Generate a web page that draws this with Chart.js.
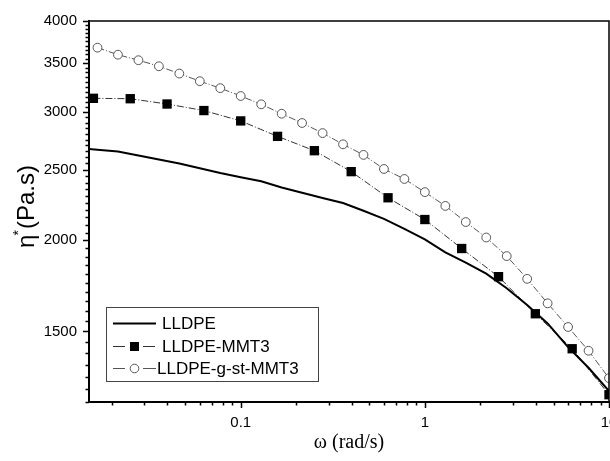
<!DOCTYPE html>
<html>
<head>
<meta charset="utf-8">
<script src="https://cdn.jsdelivr.net/npm/chart.js@4.4.1/dist/chart.umd.min.js"></script>
<style>
html, body { margin: 0; padding: 0; background: #fff; overflow: hidden; }
#wrap { position: relative; width: 640px; height: 461px; }
</style>
</head>
<body>
<div id="wrap"><canvas id="chart-canvas"></canvas></div>
<script>
// series names
const seriesNames = ['LLDPE', 'LLDPE-MMT3', 'LLDPE-g-st-MMT3'];

// frequency grids (rad/s)
const omegaFine = [0.01668, 0.02154, 0.02783, 0.03594, 0.04642, 0.05995, 0.07743, 0.1, 0.1292, 0.1668, 0.2154, 0.2783, 0.3594,
    0.4642, 0.5995, 0.7743, 1, 1.292, 1.668, 2.154, 2.783, 3.594, 4.642, 5.995, 7.743, 10];
const omegaLldpe = [0.015, 0.01668, 0.02154, 0.02783, 0.03594, 0.04642, 0.05995, 0.07743, 0.1, 0.1292, 0.1668, 0.2154, 0.2783, 0.3594,
    0.4642, 0.5995, 0.7743, 1, 1.292, 1.668, 2.154, 2.783, 3.594, 4.642, 5.995, 7.743, 10];
const omegaMmt3 = [0.01585, 0.02512, 0.03981, 0.0631, 0.1, 0.1585, 0.2512, 0.3981, 0.631, 1, 1.585, 2.512, 3.981, 6.31, 10];

// complex viscosity (Pa.s)
const etaLldpe = [2670, 2663, 2648, 2615, 2583, 2550, 2512, 2474, 2442, 2410, 2364, 2324, 2286, 2250,
    2196, 2140, 2074, 2006, 1926, 1864, 1800, 1719, 1630, 1538, 1427, 1337, 1242];
const etaMmt3 = [3133, 3129, 3077, 3014, 2917, 2778, 2655, 2485, 2288, 2136, 1949, 1783, 1586, 1420, 1228];
const etaGst = [3677, 3596, 3534, 3467, 3388, 3307, 3235, 3156, 3074, 2984, 2898, 2807, 2709, 2620, 2506,
    2428, 2329, 2230, 2119, 2018, 1903, 1771, 1639, 1521, 1411, 1294];

// ticks
const xMajor = [0.1, 1, 10];
const xMajorLabels = ['0.1', '1', '10'];
const xMinor = [0.02, 0.03, 0.04, 0.05, 0.06, 0.07, 0.08, 0.09, 0.2, 0.3, 0.4, 0.5, 0.6, 0.7, 0.8, 0.9, 2, 3, 4, 5, 6, 7, 8, 9];
const yMajor = [1500, 2000, 2500, 3000, 3500, 4000];
const yMinor = [1200, 1250, 1300, 1350, 1400, 1450, 1550, 1600, 1650, 1700, 1750, 1800, 1850, 1900, 1950,
    2050, 2100, 2150, 2200, 2250, 2300, 2350, 2400, 2450, 2550, 2600, 2650, 2700, 2750, 2800, 2850, 2900, 2950,
    3050, 3100, 3150, 3200, 3250, 3300, 3350, 3400, 3450, 3550, 3600, 3650, 3700, 3750, 3800, 3850, 3900, 3950];

const pts = (xs, ys) => xs.map((x, i) => ({ x: x, y: ys[i] }));

const frameAndDeco = {
    id: 'frameAndDeco',
    afterDraw(chart) {
        const ctx = chart.ctx, ca = chart.chartArea, sx = chart.scales.x, sy = chart.scales.y;
        ctx.save();
        // top + right frame
        ctx.strokeStyle = '#000'; ctx.lineWidth = 1.5;
        ctx.beginPath();
        ctx.moveTo(ca.left, ca.top); ctx.lineTo(ca.right, ca.top); ctx.lineTo(ca.right, ca.bottom);
        ctx.stroke();
        // ticks (outward)
        ctx.lineWidth = 1.5;
        ctx.beginPath();
        xMajor.forEach(v => { const p = Math.round(sx.getPixelForValue(v)) + 0.5; ctx.moveTo(p, ca.bottom); ctx.lineTo(p, ca.bottom + 6); });
        xMinor.forEach(v => { const p = Math.round(sx.getPixelForValue(v)) + 0.5; ctx.moveTo(p, ca.bottom); ctx.lineTo(p, ca.bottom + 3.5); });
        yMajor.forEach(v => { const p = Math.round(sy.getPixelForValue(v)) + 0.5; ctx.moveTo(ca.left, p); ctx.lineTo(ca.left - 6, p); });
        yMinor.forEach(v => { const p = Math.round(sy.getPixelForValue(v)) + 0.5; ctx.moveTo(ca.left, p); ctx.lineTo(ca.left - 3.5, p); });
        ctx.stroke();

        // y title: eta* (Pa.s)
        ctx.fillStyle = '#000';
        ctx.translate(ca.left - 55, (ca.top + ca.bottom) / 2 - 5);
        ctx.rotate(-Math.PI / 2);
        ctx.textBaseline = 'alphabetic';
        const big = '24px "Liberation Sans", Arial, sans-serif', small = '14px "Liberation Sans", Arial, sans-serif';
        ctx.font = big;
        const wEta = ctx.measureText('\u03B7').width;
        const wRest = ctx.measureText('(Pa.s)').width;
        ctx.font = small;
        const wStar = ctx.measureText('*').width;
        let tx = -(wEta + wStar + wRest) / 2;
        ctx.font = big;
        ctx.fillText('\u03B7', tx, 0); tx += wEta;
        ctx.font = small;
        ctx.fillText('*', tx - 1, -11); tx += wStar;
        ctx.font = big;
        ctx.fillText('(Pa.s)', tx, 0);
        ctx.restore();

        // legend box
        ctx.save();
        const bl = ca.left + 17, bt = ca.top + 286, bw = 212, bh = 74;
        ctx.strokeStyle = '#444'; ctx.lineWidth = 1;
        ctx.strokeRect(bl + 0.5, bt + 0.5, bw, bh);
        const rowY = [bt + 16, bt + 39, bt + 61];
        const textX = [bl + 56, bl + 56, bl + 51];
        ctx.font = '17px "Liberation Sans", Arial, sans-serif';
        ctx.textBaseline = 'middle';
        chart.data.datasets.forEach((ds, i) => {
            const y = rowY[i] + 0.5;
            ctx.strokeStyle = ds.borderColor; ctx.lineWidth = ds.borderWidth;
            ctx.beginPath();
            if (i === 0) { ctx.moveTo(bl + 7, y); ctx.lineTo(bl + 50, y); }
            else { ctx.moveTo(bl + 7, y); ctx.lineTo(bl + 19, y); ctx.moveTo(bl + 37, y); ctx.lineTo(bl + (i === 2 ? 50 : 49), y); }
            ctx.stroke();
            if (i === 1) {
                ctx.fillStyle = '#000';
                ctx.fillRect(bl + 24, y - 4.5, 9, 9);
            } else if (i === 2) {
                ctx.fillStyle = '#fff'; ctx.strokeStyle = ds.pointBorderColor; ctx.lineWidth = 1;
                ctx.beginPath(); ctx.arc(bl + 28.5, y, 4.3, 0, Math.PI * 2); ctx.fill(); ctx.stroke();
            }
            ctx.fillStyle = '#000';
            ctx.fillText(ds.label, textX[i], rowY[i] + 1);
        });
        ctx.restore();
    }
};

const tickFont = { family: '"Liberation Sans", Arial, sans-serif', size: 15 };

new Chart(document.getElementById('chart-canvas'), {
    type: 'line',
    data: {
        datasets: [
            { label: seriesNames[0], data: pts(omegaLldpe, etaLldpe), borderColor: '#000', borderWidth: 2,
              pointRadius: 0, tension: 0 },
            { label: seriesNames[1], data: pts(omegaMmt3, etaMmt3), borderColor: '#333', borderWidth: 1,
              borderDash: [7, 2, 1, 2], pointStyle: 'rect', pointRadius: 6.6, pointBackgroundColor: '#000',
              pointBorderColor: '#000', pointBorderWidth: 0, tension: 0 },
            { label: seriesNames[2], data: pts(omegaFine, etaGst), borderColor: '#555', borderWidth: 1,
              borderDash: [7, 2, 1, 2], pointStyle: 'circle', pointRadius: 4.4, pointBackgroundColor: '#fff',
              pointBorderColor: '#555', pointBorderWidth: 1, tension: 0 }
        ]
    },
    options: {
        responsive: true, maintainAspectRatio: false, animation: false,
        layout: { padding: { left: 0, right: 31, top: 21, bottom: 0 } },
        plugins: { legend: { display: false }, tooltip: { enabled: false } },
        scales: {
            x: {
                type: 'logarithmic', min: 0.015, max: 10,
                afterBuildTicks: s => { s.ticks = xMajor.map(v => ({ value: v })); },
                afterFit: s => { s.height = 59; },
                ticks: { font: tickFont, color: '#000', padding: 12, maxRotation: 0, autoSkip: false,
                         callback: (v) => xMajorLabels[xMajor.indexOf(v)] },
                grid: { display: false, drawTicks: false },
                border: { display: true, color: '#000', width: 2 },
                title: { display: true, text: 'ω (rad/s)', color: '#000',
                         font: { family: '"Liberation Serif", "Times New Roman", serif', size: 20 },
                         padding: { top: 0, bottom: 6 } }
            },
            y: {
                type: 'logarithmic', min: 1200, max: 4000,
                afterBuildTicks: s => { s.ticks = yMajor.map(v => ({ value: v })); },
                afterFit: s => { s.width = 89; },
                ticks: { font: tickFont, color: '#000', padding: 12, autoSkip: false,
                         callback: (v) => String(v) },
                grid: { display: false, drawTicks: false },
                border: { display: true, color: '#000', width: 2 }
            }
        }
    },
    plugins: [frameAndDeco]
});
</script>
</body>
</html>
